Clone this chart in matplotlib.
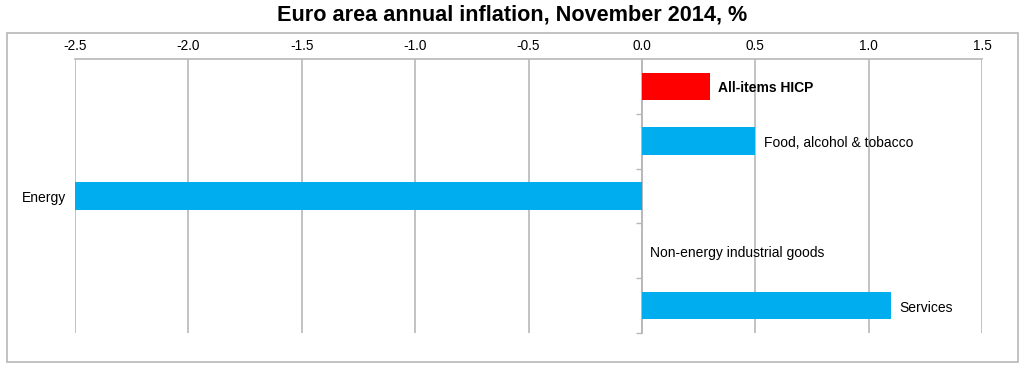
import matplotlib
matplotlib.use("Agg")
import matplotlib.pyplot as plt
from matplotlib.patches import Rectangle
import numpy as np

categories = ["All-items HICP", "Food, alcohol & tobacco", "Energy",
              "Non-energy industrial goods", "Services"]
values = [0.3, 0.5, -2.5, 0.0, 1.1]
colors = ["#FF0000", "#00AEEF", "#00AEEF", "#00AEEF", "#00AEEF"]
bold = [True, False, False, False, False]
xticks = [-2.5, -2.0, -1.5, -1.0, -0.5, 0.0, 0.5, 1.0, 1.5]
title = "Euro area annual inflation, November 2014, %"

plt.rcParams['font.family'] = ['Liberation Sans', 'DejaVu Sans']
W, H = 1024, 369
fig = plt.figure(figsize=(W / 100, H / 100), dpi=100)
ax = fig.add_axes([75 / W, (H - 333) / H, (982 - 75) / W, (333 - 59) / H])

grid_c = "#b8b8b8"
y = np.arange(len(categories))
ax.barh(y, values, height=0.5, color=colors, zorder=3)

ax.set_xlim(xticks[0], xticks[-1])
ax.set_ylim(len(categories) - 0.5, -0.5)
ax.set_xticks(xticks)
ax.set_xticklabels([f"{t:.1f}" for t in xticks])
ax.xaxis.tick_top()
ax.tick_params(axis='x', length=0, pad=4.5, labelsize=9.8, colors="#000000")
ax.grid(axis='x', color=grid_c, linewidth=1.2, zorder=0)

ax.set_yticks([])
ax.set_yticks(np.arange(len(categories)) + 0.5, minor=True)
ax.tick_params(axis='y', which='minor', length=4, color=grid_c, width=1)

for s in ['right', 'bottom']:
    ax.spines[s].set_visible(False)
ax.spines['top'].set_color(grid_c)
ax.spines['top'].set_linewidth(1.2)
ax.spines['left'].set_position(('data', 0))
ax.spines['left'].set_color(grid_c)
ax.spines['left'].set_linewidth(1.2)

for i, (c, v, b) in enumerate(zip(categories, values, bold)):
    if v < 0:
        ax.annotate(c, (v, i), xytext=(-6.5, -1.5), textcoords='offset points',
                    ha='right', va='center', fontsize=10,
                    fontweight='bold' if b else 'normal')
    else:
        ax.annotate(c, (v, i), xytext=(6, -1.5), textcoords='offset points',
                    ha='left', va='center', fontsize=10,
                    fontweight='bold' if b else 'normal')

fig.patches.append(Rectangle((7 / W, (H - 362) / H), (1018 - 7) / W, (362 - 33) / H,
                             transform=fig.transFigure, fill=False,
                             edgecolor=grid_c, linewidth=1.2))
fig.text(512 / W, 1 - 15 / H, title, ha='center', va='center',
         fontsize=15.6, fontweight='bold')

fig.savefig("out.png", dpi=100)
